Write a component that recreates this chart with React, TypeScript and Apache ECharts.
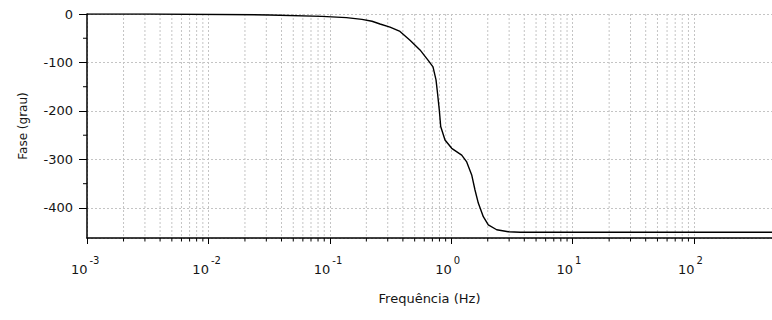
import React, { useEffect, useRef } from "react";
import * as echarts from "echarts";

// Frequency (Hz) and phase (degrees)
const freqHz = [
  0.001, 0.0033, 0.0137, 0.0318, 0.0862, 0.137, 0.184, 0.2227, 0.2592, 0.3133,
  0.3787, 0.4577, 0.5534, 0.644, 0.7081, 0.7497, 0.7711, 0.798, 0.8193, 0.8891,
  1.0095, 1.2205, 1.3418, 1.4752, 1.5704, 1.6717, 1.8385, 2.0211, 2.3703, 2.9529,
  3.687, 439,
];
const phaseDeg = [
  0, 0, -1, -2, -5, -7.5, -11, -15, -20.6, -27,
  -36, -54, -74, -95, -109, -136, -163, -198, -232, -260,
  -277, -291, -305, -332, -363, -390, -418, -435, -445, -449,
  -450, -450,
];

// Axis ranges and tick values
const X_MIN = 0.001;
const X_MAX = 439;
const Y_MIN = -462;
const Y_MAX = 0;
const xMajorTicks = [0.001, 0.01, 0.1, 1, 10, 100];
const xMajorExponents = ["-3", "-2", "-1", "0", "1", "2"];
const minorMultipliers = [2, 3, 4, 5, 6, 7, 8, 9];
const minorDecades = [0.001, 0.01, 0.1, 1, 10];
const xMinorTicks = minorDecades.flatMap((d) =>
  minorMultipliers.map((m) => +(d * m).toPrecision(3))
);
const yMinorTicks = [-50, -150, -250, -350];

const xName = "Frequência (Hz)";
const yName = "Fase (grau)";

const FONT = "DejaVu Sans";
const TEXT = "#151515";
const GRID = "#c4c4c4";

export default function App() {
  const ref = useRef<HTMLDivElement>(null);

  useEffect(() => {
    if (!ref.current) return;
    const chart = echarts.init(ref.current, undefined, { renderer: "svg" });
    const curve = freqHz.map((f, i) => [f, phaseDeg[i]]);

    chart.setOption({
      animation: false,
      backgroundColor: "#fff",
      grid: { left: 87, right: 0, top: 14, bottom: 82, containLabel: false },
      xAxis: {
        type: "log",
        logBase: 10,
        min: X_MIN,
        max: X_MAX,
        name: xName,
        nameLocation: "middle",
        nameGap: 54,
        nameTextStyle: { fontFamily: FONT, fontSize: 13, color: TEXT },
        axisLine: { onZero: false, lineStyle: { color: "#000", width: 1.5 } },
        axisTick: { show: true, inside: false, length: 6, lineStyle: { color: "#000", width: 1 } },
        splitLine: { show: true, lineStyle: { color: GRID, width: 1, type: [2, 2] } },
        minorTick: { show: false },
        axisLabel: { show: false },
      },
      yAxis: {
        type: "value",
        min: Y_MIN,
        max: Y_MAX,
        splitNumber: 5,
        name: yName,
        nameLocation: "middle",
        nameGap: 58,
        nameRotate: 90,
        nameTextStyle: { fontFamily: FONT, fontSize: 12, color: TEXT },
        axisLine: { show: true, onZero: false, lineStyle: { color: "#000", width: 1.5 } },
        axisTick: { show: true, inside: false, length: 8, lineStyle: { color: "#000", width: 1 } },
        splitLine: { show: true, lineStyle: { color: GRID, width: 1, type: [2, 2] } },
        axisLabel: {
          margin: 14,
          showMinLabel: false,
          color: TEXT,
          fontFamily: FONT,
          fontSize: 13,
        },
      },
      series: [
        {
          type: "custom",
          name: "xminor",
          z: 1,
          silent: true,
          clip: false,
          data: xMinorTicks.map((v) => [v, Y_MIN]),
          encode: { x: 0, y: 1 },
          renderItem: (_p: any, api: any) => {
            const x = api.value(0);
            const top = api.coord([x, Y_MAX]);
            const bot = api.coord([x, Y_MIN]);
            return {
              type: "group",
              children: [
                {
                  type: "line",
                  shape: { x1: top[0], y1: top[1], x2: bot[0], y2: bot[1] },
                  style: { stroke: GRID, lineWidth: 1, lineDash: [2, 2] },
                },
                {
                  type: "line",
                  shape: { x1: bot[0], y1: bot[1], x2: bot[0], y2: bot[1] + 3.5 },
                  style: { stroke: "#000", lineWidth: 1 },
                },
              ],
            };
          },
        },
        {
          type: "custom",
          name: "xlabels",
          z: 2,
          silent: true,
          clip: false,
          data: xMajorTicks.map((v, i) => [v, Y_MIN, i]),
          encode: { x: 0, y: 1 },
          renderItem: (_p: any, api: any) => {
            const p = api.coord([api.value(0), api.value(1)]);
            const idx = api.value(2);
            return {
              type: "group",
              children: [
                {
                  type: "text",
                  x: p[0] + 0.5,
                  y: p[1] + 31,
                  style: {
                    text: "10",
                    fontFamily: FONT,
                    fontSize: 13,
                    fill: TEXT,
                    align: "right",
                    verticalAlign: "middle",
                  },
                },
                {
                  type: "text",
                  x: p[0] + 2.5,
                  y: p[1] + 22,
                  style: {
                    text: xMajorExponents[idx],
                    fontFamily: FONT,
                    fontSize: 10,
                    fill: TEXT,
                    align: "left",
                    verticalAlign: "middle",
                  },
                },
              ],
            };
          },
        },
        {
          type: "custom",
          name: "yminor",
          z: 1,
          silent: true,
          clip: false,
          data: yMinorTicks.map((v) => [X_MIN, v]),
          encode: { x: 0, y: 1 },
          renderItem: (_p: any, api: any) => {
            const p = api.coord([api.value(0), api.value(1)]);
            return {
              type: "line",
              shape: { x1: p[0] - 4, y1: p[1], x2: p[0], y2: p[1] },
              style: { stroke: "#000", lineWidth: 1 },
            };
          },
        },
        {
          type: "line",
          name: "fase",
          z: 3,
          data: curve,
          showSymbol: false,
          smooth: false,
          lineStyle: { color: "#000", width: 1.4 },
        },
      ],
    });

    return () => chart.dispose();
  }, []);

  return (
    <div
      ref={ref}
      style={{ position: "absolute", left: 0, top: 0, width: 772, height: 320, background: "#fff" }}
    />
  );
}
